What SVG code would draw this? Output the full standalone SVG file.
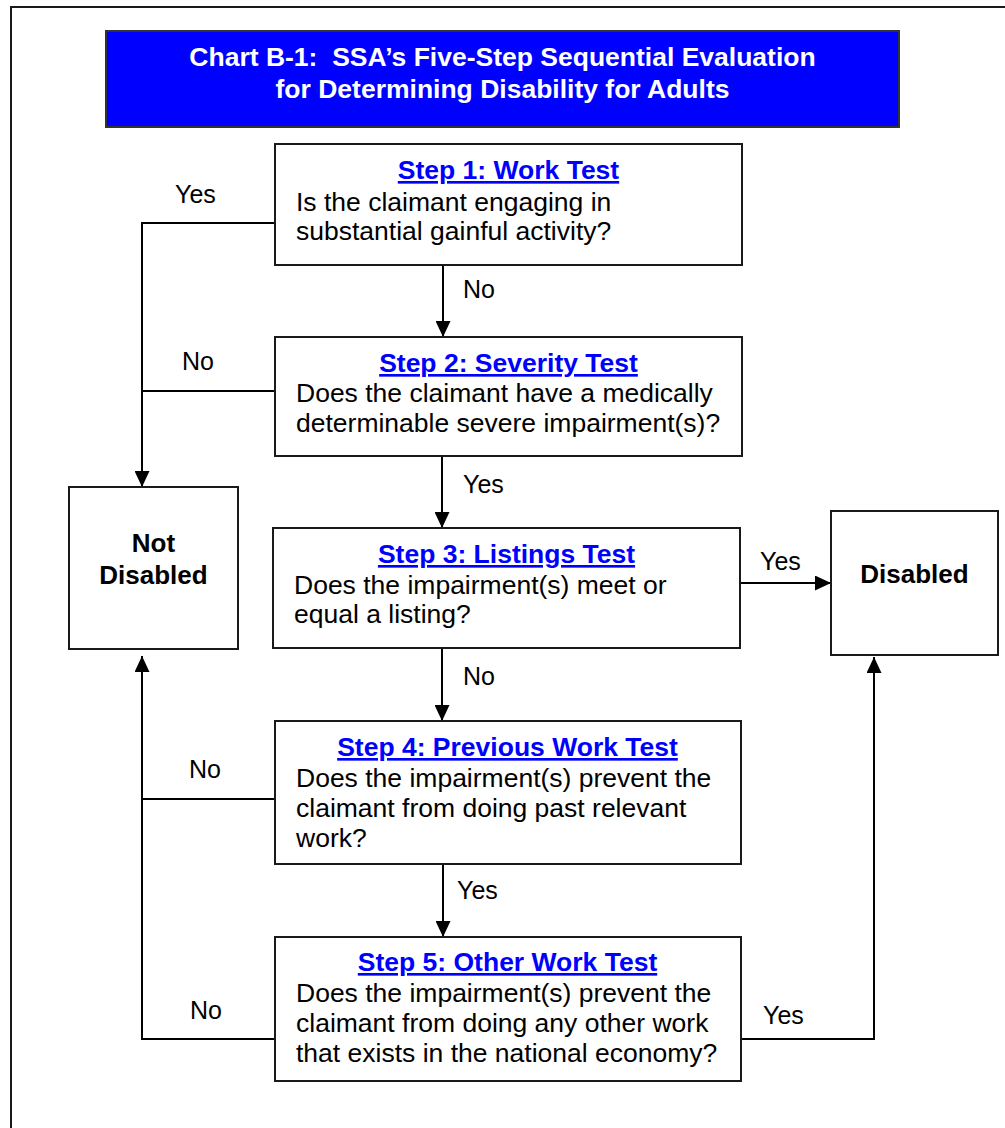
<svg xmlns="http://www.w3.org/2000/svg" width="1005" height="1128" viewBox="0 0 1005 1128">
<style>
  text { font-family: "Liberation Sans", Arial, sans-serif; fill: #000; }
  .box { fill: #fff; stroke: #1a1a1a; stroke-width: 2; }
  .title { fill: #fff; font-weight: bold; font-size: 26.5px; text-anchor: middle; white-space: pre; }
  .step { fill: #0000ff; font-weight: bold; font-size: 26.5px; text-anchor: middle; text-decoration: underline; }
  .body { font-size: 26.5px; }
  .lbl { font-size: 25px; }
  .res { font-weight: bold; font-size: 26px; text-anchor: middle; }
  .conn { fill: none; stroke: #000; stroke-width: 2; }
</style>
<defs>
  <marker id="arr" markerUnits="userSpaceOnUse" markerWidth="16" markerHeight="15" refX="16" refY="7.5" orient="auto">
    <path d="M0,0 L16,7.5 L0,15 z" fill="#000"/>
  </marker>
</defs>
<rect x="0" y="0" width="1005" height="1128" fill="#fff"/>
<rect x="11" y="7" width="1100" height="1200" fill="none" stroke="#1a1a1a" stroke-width="2"/>

<g id="title">
  <rect x="106" y="31" width="793" height="96" fill="#0000ff" stroke="#333" stroke-width="2"/>
  <text class="title" x="502.5" y="66">Chart B-1:  SSA’s Five-Step Sequential Evaluation</text>
  <text class="title" x="502.5" y="98">for Determining Disability for Adults</text>
</g>

<g id="connectors">
  <path class="conn" d="M275,223 H142 V487" marker-end="url(#arr)"/>
  <path class="conn" d="M275,391 H142"/>
  <path class="conn" d="M443,265 V337" marker-end="url(#arr)"/>
  <path class="conn" d="M442,456 V528" marker-end="url(#arr)"/>
  <path class="conn" d="M740,583 H831" marker-end="url(#arr)"/>
  <path class="conn" d="M442,648 V721" marker-end="url(#arr)"/>
  <path class="conn" d="M443,864 V937" marker-end="url(#arr)"/>
  <path class="conn" d="M275,799 H142"/>
  <path class="conn" d="M275,1039 H142 V656" marker-end="url(#arr)"/>
  <path class="conn" d="M741,1039 H874 V657" marker-end="url(#arr)"/>
  <text class="lbl" x="175" y="203">Yes</text>
  <text class="lbl" x="463" y="298">No</text>
  <text class="lbl" x="182" y="370">No</text>
  <text class="lbl" x="463" y="493">Yes</text>
  <text class="lbl" x="760" y="570">Yes</text>
  <text class="lbl" x="463" y="685">No</text>
  <text class="lbl" x="189" y="778">No</text>
  <text class="lbl" x="457" y="899">Yes</text>
  <text class="lbl" x="190" y="1019">No</text>
  <text class="lbl" x="763" y="1024">Yes</text>
</g>

<g id="step1">
  <rect class="box" x="275" y="144" width="467" height="121"/>
  <text class="step" x="508.5" y="179">Step 1: Work Test</text>
  <text class="body" x="296" y="211">Is the claimant engaging in</text>
  <text class="body" x="296" y="240">substantial gainful activity?</text>
</g>

<g id="step2">
  <rect class="box" x="275" y="337" width="467" height="119"/>
  <text class="step" x="508.5" y="372">Step 2: Severity Test</text>
  <text class="body" x="296" y="402">Does the claimant have a medically</text>
  <text class="body" x="296" y="432">determinable severe impairment(s)?</text>
</g>

<g id="not-disabled">
  <rect class="box" x="69" y="487" width="169" height="162"/>
  <text class="res" x="153.5" y="552">Not</text>
  <text class="res" x="153.5" y="584">Disabled</text>
</g>

<g id="step3">
  <rect class="box" x="273" y="528" width="467" height="120"/>
  <text class="step" x="506.5" y="563">Step 3: Listings Test</text>
  <text class="body" x="294" y="594">Does the impairment(s) meet or</text>
  <text class="body" x="294" y="623">equal a listing?</text>
</g>

<g id="disabled">
  <rect class="box" x="831" y="511" width="167" height="144"/>
  <text class="res" x="914.5" y="583">Disabled</text>
</g>

<g id="step4">
  <rect class="box" x="275" y="721" width="466" height="143"/>
  <text class="step" x="507.5" y="756">Step 4: Previous Work Test</text>
  <text class="body" x="296" y="787">Does the impairment(s) prevent the</text>
  <text class="body" x="296" y="817">claimant from doing past relevant</text>
  <text class="body" x="296" y="847">work?</text>
</g>

<g id="step5">
  <rect class="box" x="275" y="937" width="466" height="144"/>
  <text class="step" x="507.5" y="971">Step 5: Other Work Test</text>
  <text class="body" x="296" y="1002">Does the impairment(s) prevent the</text>
  <text class="body" x="296" y="1032">claimant from doing any other work</text>
  <text class="body" x="296" y="1062">that exists in the national economy?</text>
</g>
</svg>
